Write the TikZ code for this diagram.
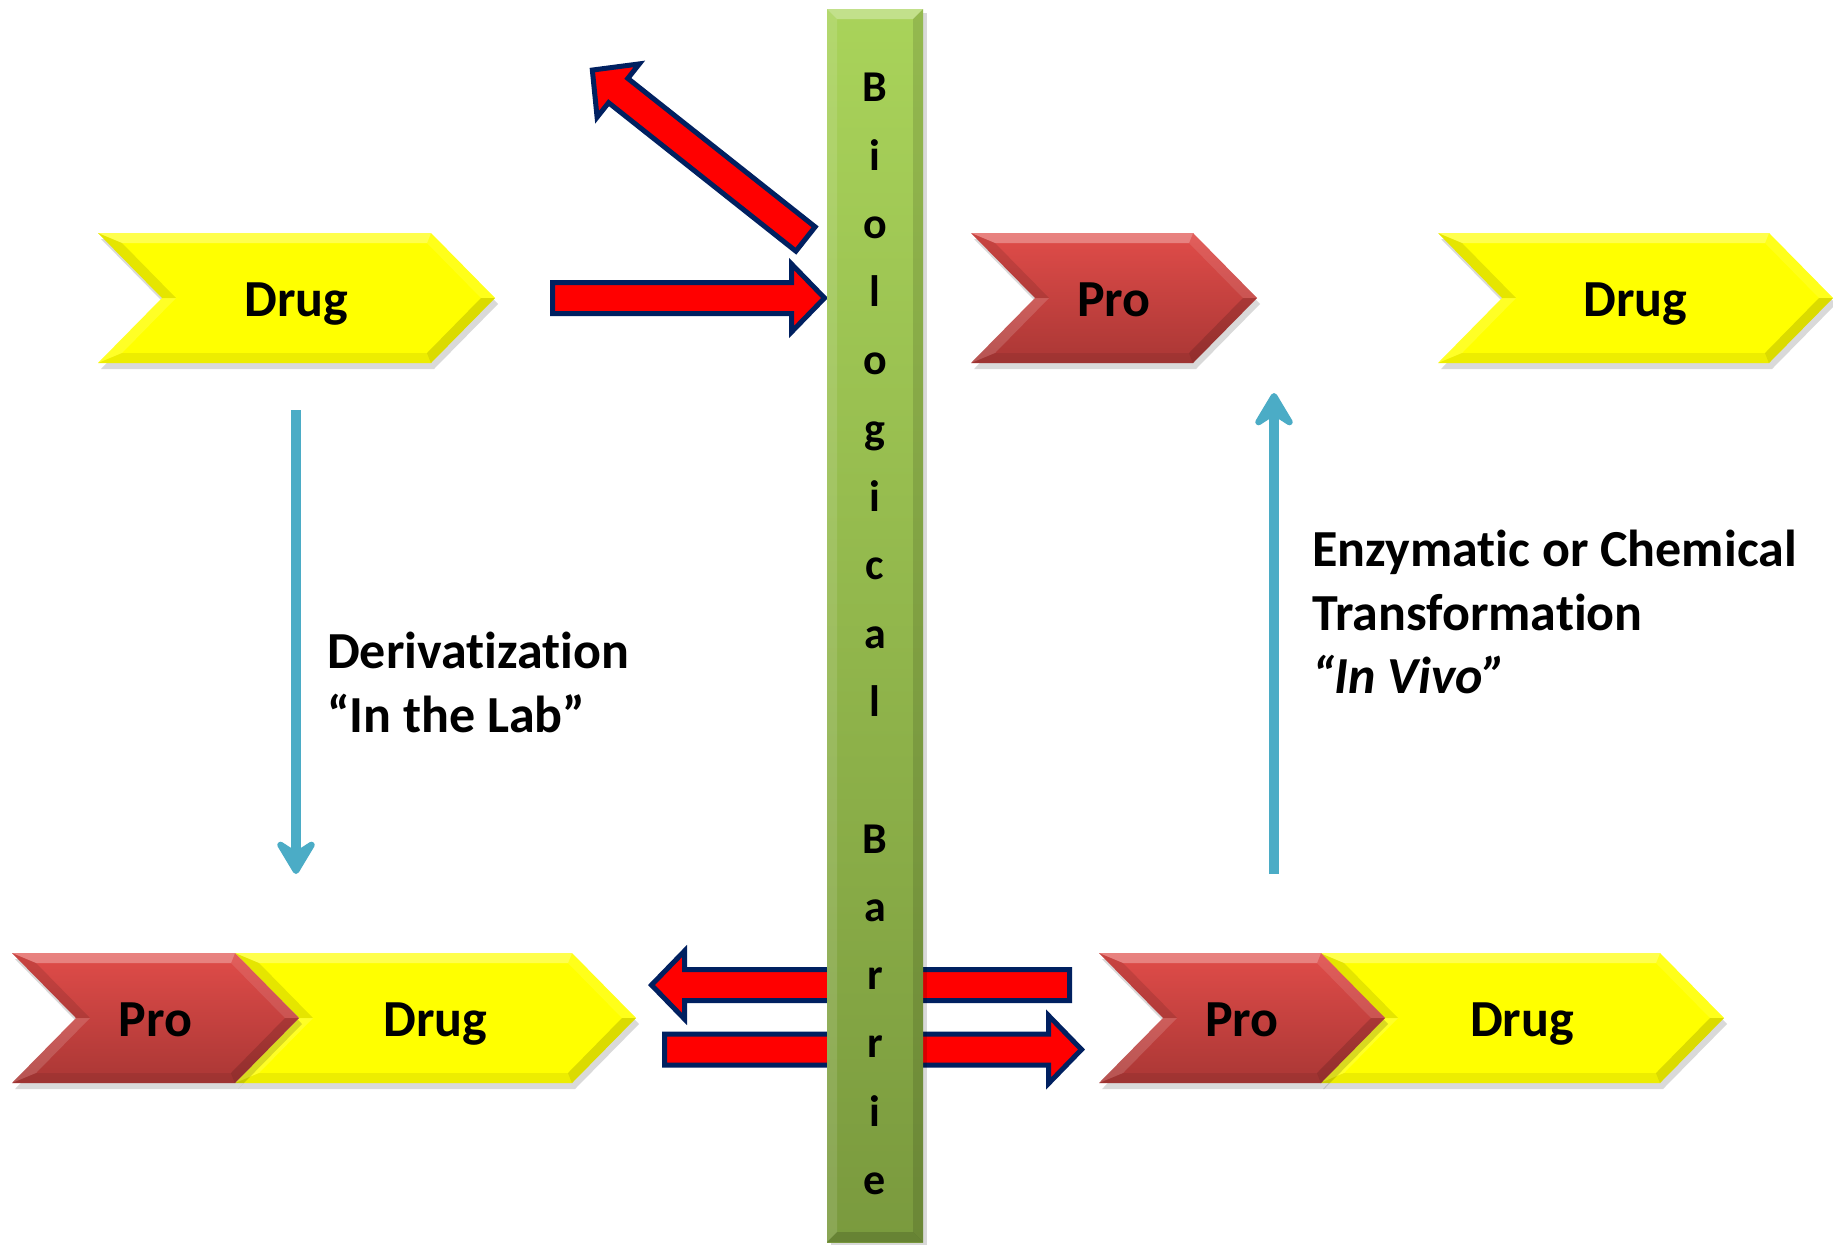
\documentclass[tikz,border=0pt]{standalone}
\usepackage{fontspec}
\setmainfont{Carlito}[Ligatures=NoCommon]
\usetikzlibrary{arrows.meta}
\definecolor{navy}{HTML}{002060}
\definecolor{blueline}{HTML}{4BACC6}
\definecolor{yel}{HTML}{FFFF00}
\definecolor{proTop}{HTML}{E04C49}
\definecolor{proBot}{HTML}{AA3735}
\definecolor{barTop}{HTML}{A9D35A}
\definecolor{barBot}{HTML}{7A9A3E}
\tikzset{
  ycenter/.style={fill=yel},
  rcenter/.style={top color=proTop, bottom color=proBot},
  pics/chev/.style n args={2}{code={
    \fill[black,opacity=0.15] (3,6) -- ({#1-61},6) -- ({#1+3},71) -- ({#1-61},136) -- (3,136) -- (67,71) -- cycle;
    \path[#2center] (0,0) -- ({#1-64},0) -- (#1,65) -- ({#1-64},130) -- (0,130) -- (64,65) -- cycle;
    \fill[white,opacity=0.3] (0,0) -- ({#1-64},0) -- ({#1-68},10) -- (24,10) -- cycle;
    \fill[white,opacity=0.1] ({#1-64},0) -- (#1,65) -- ({#1-14},65) -- ({#1-68},10) -- cycle;
    \fill[black,opacity=0.14] (#1,65) -- ({#1-64},130) -- ({#1-68},120) -- ({#1-14},65) -- cycle;
    \fill[black,opacity=0.07] ({#1-64},130) -- (0,130) -- (24,120) -- ({#1-68},120) -- cycle;
    \fill[white,opacity=0.15] (0,130) -- (64,65) -- (78,65) -- (24,120) -- cycle;
    \fill[black,opacity=0.1] (64,65) -- (0,0) -- (24,10) -- (78,65) -- cycle;
  }},
  pics/redarr/.style={code={
    \draw[fill=red, draw=navy, line width=5pt, line join=miter]
      (0,-15.5) -- ({#1-33},-15.5) -- ({#1-33},-34) -- (#1,0) -- ({#1-33},34) -- ({#1-33},15.5) -- (0,15.5) -- cycle;
  }},
  clab/.style={font=\fontsize{52}{62}\selectfont\bfseries, anchor=base, inner sep=0pt},
  lab/.style={font=\fontsize{52}{62}\selectfont\bfseries, anchor=base west, inner sep=0pt},
  barletter/.style={font=\fontsize{44}{52}\selectfont\bfseries, anchor=base, inner sep=0pt},
  bluearr/.style={draw=blueline, line width=10pt, -{Stealth[length=42pt,width=50pt,inset=16pt,round]}},
}
\begin{document}
\begin{tikzpicture}[x=1pt,y=-1pt]
\useasboundingbox (0,0) rectangle (1833,1245);
\fill[white] (0,0) rectangle (1833,1245);

% chevrons
\pic at (98,233) {chev={397}{y}};
\pic at (971,233) {chev={286}{r}};
\pic at (1438,233) {chev={395}{y}};
\pic at (235,953) {chev={401}{y}};
\pic at (12,953) {chev={287}{r}};
\pic at (1320,953) {chev={404}{y}};
\pic at (1099,953) {chev={286}{r}};

\node[clab] (drugTL) at (296.5,316) {Drug};
\node[clab] (proT) at (1114,316) {Pro};
\node[clab] (drugTR) at (1635.5,316) {Drug};
\node[clab] (proBL) at (155.5,1036) {Pro};
\node[clab] (drugBL) at (435.5,1036) {Drug};
\node[clab] (proBR) at (1242,1036) {Pro};
\node[clab] (drugBR) at (1522,1036) {Drug};

% blue connectors
\coordinate (d1) at (296,410);
\coordinate (d2) at (296,874);
\coordinate (e1) at (1274,874);
\coordinate (e2) at (1274,393);
\draw[bluearr] (d1) -- (d2);
\draw[bluearr] (e1) -- (e2);

% labels
\node[lab] (t1) at (327,668) {Derivatization};
\node[lab] (t2) at (327,732) {“In the Lab”};
\node[lab] (t3) at (1312,566) {Enzymatic or Chemical};
\node[lab] (t4) at (1312,630) {Transformation};
\node[lab] (t5) at (1312,693) {\itshape “In Vivo”};

% red block arrows
\pic at (552.5,298) {redarr=272};
\pic[rotate=141.6] at (805.5,239) {redarr=272};
\pic[rotate=180] at (1069.5,985) {redarr=418};
\pic at (664.5,1049.5) {redarr=417};

% barrier
\fill[black,opacity=0.15] (831,13) rectangle (927,1245);
\path[top color=barTop, bottom color=barBot] (827,9) rectangle (923,1242);
\fill[white,opacity=0.3] (827,9) -- (923,9) -- (913,19) -- (837,19) -- cycle;
\fill[white,opacity=0.12] (827,9) -- (837,19) -- (837,1232) -- (827,1242) -- cycle;
\fill[black,opacity=0.12] (923,9) -- (923,1242) -- (913,1232) -- (913,19) -- cycle;
\fill[black,opacity=0.15] (827,1242) -- (923,1242) -- (913,1232) -- (837,1232) -- cycle;
\foreach \ch/\k in {B/0,i/1,o/2,l/3,o/4,g/5,i/6,c/7,a/8,l/9,B/11,a/12,r/13,r/14,i/15,e/16}
  \node[barletter] (bar\k) at (875,{101.7+\k*68.3}) {\ch};
\end{tikzpicture}
\end{document}
